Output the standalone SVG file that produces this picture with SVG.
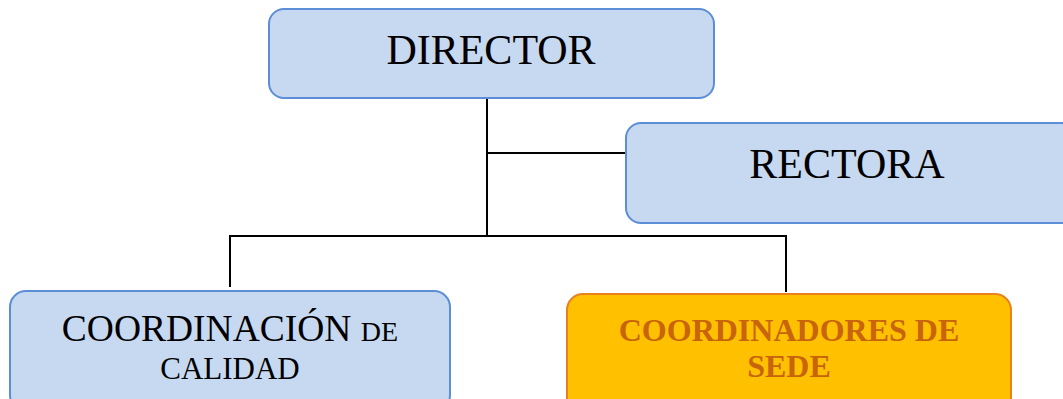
<svg xmlns="http://www.w3.org/2000/svg" width="1063" height="399" viewBox="0 0 1063 399">
  <style>
    .box { fill: #C6D9F1; stroke: #5B8ED6; stroke-width: 2; }
    .hot { fill: #FFC000; stroke: #E8821E; stroke-width: 2; }
    .lbl { font-family: "Liberation Serif", "Times New Roman", serif; fill: #000; text-anchor: middle; }
    .hot-lbl { font-family: "Liberation Serif", "Times New Roman", serif; font-weight: bold; fill: #C8640C; text-anchor: middle; font-size: 32px; }
    .wire { fill: none; stroke: #000; stroke-width: 2; }
  </style>
  <rect width="1063" height="399" fill="#fff"/>

  <g id="connectors">
    <path class="wire" d="M487,98 V236"/>
    <path class="wire" d="M487,153 H626"/>
    <path class="wire" d="M230,287 V236 H786 V292"/>
  </g>

  <g id="director">
    <rect class="box" x="269" y="9" width="445" height="89" rx="15"/>
    <text class="lbl" x="491" y="64" font-size="42">DIRECTOR</text>
  </g>

  <g id="rectora">
    <rect class="box" x="626" y="123" width="450" height="100" rx="15"/>
    <text class="lbl" x="847" y="178" font-size="42">RECTORA</text>
  </g>

  <g id="coordinacion-calidad">
    <rect class="box" x="10" y="291" width="440" height="120" rx="16"/>
    <text class="lbl" x="230" y="341" font-size="37.5">COORDINACIÓN <tspan font-size="28">DE</tspan></text>
    <text class="lbl" x="230" y="379" font-size="31">CALIDAD</text>
  </g>

  <g id="coordinadores-sede">
    <rect class="hot" x="567" y="294" width="444" height="120" rx="16"/>
    <text class="hot-lbl" x="789" y="341">COORDINADORES DE</text>
    <text class="hot-lbl" x="789" y="377">SEDE</text>
  </g>
</svg>
